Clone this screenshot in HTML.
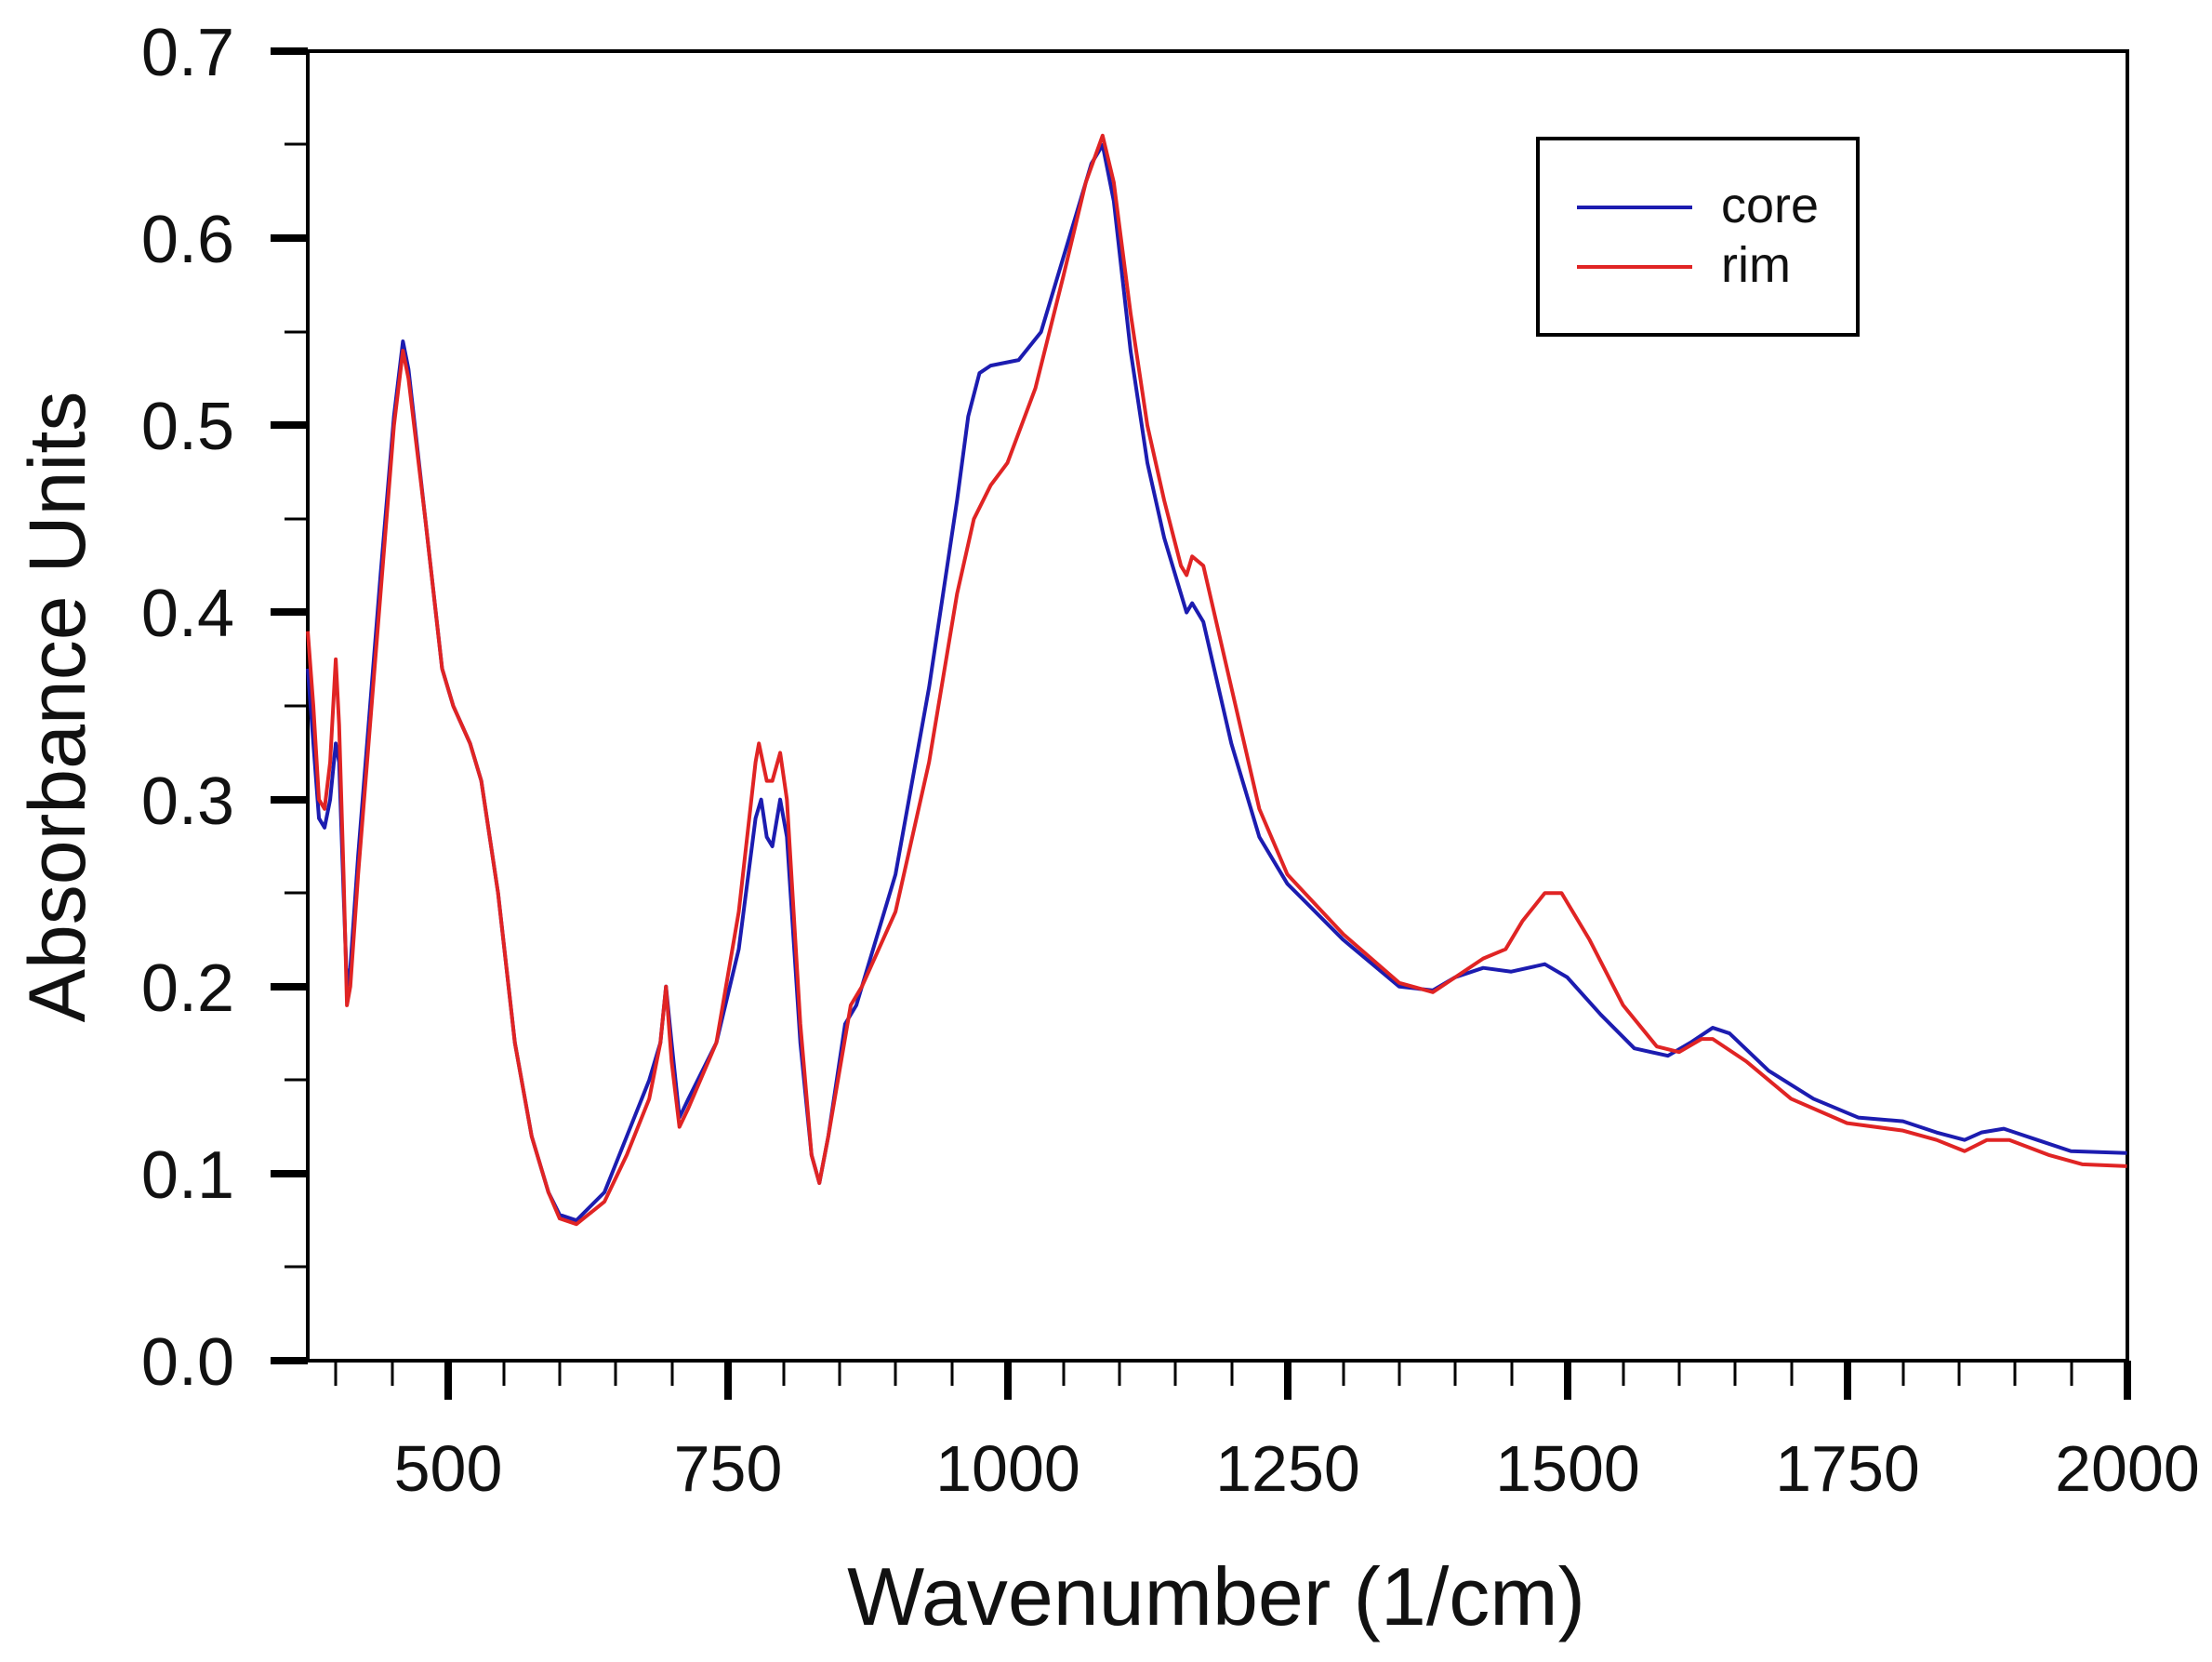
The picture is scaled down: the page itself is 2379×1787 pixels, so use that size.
<!DOCTYPE html>
<html><head><meta charset="utf-8"><style>
html,body{margin:0;padding:0;background:#fff;}
svg{display:block;}
text{font-family:"Liberation Sans",Arial,sans-serif;fill:#111;}
</style></head><body>
<svg width="2379" height="1787" viewBox="0 0 2379 1787" xmlns="http://www.w3.org/2000/svg">
<rect width="2379" height="1787" fill="#fff"/>
<rect x="331" y="55" width="1957" height="1408" fill="none" stroke="#000" stroke-width="4"/>
<g stroke="#000">
<g stroke-width="8">
<line x1="291" y1="1463" x2="331" y2="1463"/><line x1="291" y1="1262" x2="331" y2="1262"/>
<line x1="291" y1="1061" x2="331" y2="1061"/><line x1="291" y1="860" x2="331" y2="860"/>
<line x1="291" y1="658" x2="331" y2="658"/><line x1="291" y1="457" x2="331" y2="457"/>
<line x1="291" y1="256" x2="331" y2="256"/><line x1="291" y1="55" x2="331" y2="55"/>
</g>
<g stroke-width="3">
<line x1="306" y1="1362" x2="331" y2="1362"/><line x1="306" y1="1161" x2="331" y2="1161"/>
<line x1="306" y1="960" x2="331" y2="960"/><line x1="306" y1="759" x2="331" y2="759"/>
<line x1="306" y1="558" x2="331" y2="558"/><line x1="306" y1="357" x2="331" y2="357"/>
<line x1="306" y1="155" x2="331" y2="155"/>
</g>
<g stroke-width="8">
<line x1="482" y1="1463" x2="482" y2="1505"/><line x1="783" y1="1463" x2="783" y2="1505"/>
<line x1="1084" y1="1463" x2="1084" y2="1505"/><line x1="1385" y1="1463" x2="1385" y2="1505"/>
<line x1="1686" y1="1463" x2="1686" y2="1505"/><line x1="1987" y1="1463" x2="1987" y2="1505"/>
<line x1="2288" y1="1463" x2="2288" y2="1505"/>
</g>
<g stroke-width="3">
<line x1="361" y1="1463" x2="361" y2="1490"/><line x1="422" y1="1463" x2="422" y2="1490"/>
<line x1="542" y1="1463" x2="542" y2="1490"/><line x1="602" y1="1463" x2="602" y2="1490"/>
<line x1="662" y1="1463" x2="662" y2="1490"/><line x1="723" y1="1463" x2="723" y2="1490"/>
<line x1="843" y1="1463" x2="843" y2="1490"/><line x1="903" y1="1463" x2="903" y2="1490"/>
<line x1="963" y1="1463" x2="963" y2="1490"/><line x1="1024" y1="1463" x2="1024" y2="1490"/>
<line x1="1144" y1="1463" x2="1144" y2="1490"/><line x1="1204" y1="1463" x2="1204" y2="1490"/>
<line x1="1264" y1="1463" x2="1264" y2="1490"/><line x1="1325" y1="1463" x2="1325" y2="1490"/>
<line x1="1445" y1="1463" x2="1445" y2="1490"/><line x1="1505" y1="1463" x2="1505" y2="1490"/>
<line x1="1565" y1="1463" x2="1565" y2="1490"/><line x1="1626" y1="1463" x2="1626" y2="1490"/>
<line x1="1746" y1="1463" x2="1746" y2="1490"/><line x1="1806" y1="1463" x2="1806" y2="1490"/>
<line x1="1866" y1="1463" x2="1866" y2="1490"/><line x1="1927" y1="1463" x2="1927" y2="1490"/>
<line x1="2047" y1="1463" x2="2047" y2="1490"/><line x1="2107" y1="1463" x2="2107" y2="1490"/>
<line x1="2167" y1="1463" x2="2167" y2="1490"/><line x1="2228" y1="1463" x2="2228" y2="1490"/>
</g>
</g>
<g font-size="72" text-anchor="end">
<text x="252" y="1489">0.0</text><text x="252" y="1288">0.1</text>
<text x="252" y="1087">0.2</text><text x="252" y="886">0.3</text>
<text x="252" y="684">0.4</text><text x="252" y="483">0.5</text>
<text x="252" y="282">0.6</text><text x="252" y="81">0.7</text>
</g>
<g font-size="70" text-anchor="middle">
<text x="482" y="1603">500</text><text x="783" y="1603">750</text>
<text x="1084" y="1603">1000</text><text x="1385" y="1603">1250</text>
<text x="1686" y="1603">1500</text><text x="1987" y="1603">1750</text>
<text x="2288" y="1603">2000</text>
</g>
<text x="1308" y="1747" font-size="88" text-anchor="middle">Wavenumber (1/cm)</text>
<text transform="translate(91,760) rotate(-90)" font-size="86" text-anchor="middle">Absorbance Units</text>
<rect x="1654" y="149" width="344" height="211" fill="#fff" stroke="#000" stroke-width="4"/>
<line x1="1696" y1="223" x2="1820" y2="223" stroke="#1c1cb0" stroke-width="4"/>
<line x1="1696" y1="287" x2="1820" y2="287" stroke="#e02424" stroke-width="4"/>
<text x="1851" y="239" font-size="54">core</text>
<text x="1851" y="303" font-size="54">rim</text>
<g transform="translate(-120.5,1463) scale(1.204,-2.011)" fill="none" stroke-linejoin="round">
<path vector-effect="non-scaling-stroke" stroke="#1c1cb0" stroke-width="4" d="M375,370 L380,330 L385,290 L390,285 L395,300 L400,330 L403,320 L407,250 L410,200 L413,210 L420,270 L440,420 L452,505 L460,545 L465,530 L480,450 L495,370 L505,350 L520,330 L530,310 L545,250 L560,170 L575,120 L590,90 L600,78 L615,75 L640,90 L660,120 L680,150 L690,170 L695,200 L700,170 L707,130 L715,140 L740,170 L760,220 L775,290 L780,300 L785,280 L790,275 L797,300 L803,280 L815,170 L825,110 L832,95 L840,120 L855,180 L865,190 L870,200 L900,260 L930,360 L955,460 L965,505 L975,528 L985,532 L1010,535 L1030,550 L1060,610 L1075,640 L1085,650 L1095,620 L1110,540 L1125,480 L1140,440 L1155,410 L1160,400 L1165,405 L1175,395 L1200,330 L1225,280 L1250,255 L1300,225 L1350,200 L1380,198 L1400,205 L1425,210 L1450,208 L1480,212 L1500,205 L1530,185 L1560,167 L1590,163 L1610,170 L1630,178 L1645,175 L1680,155 L1720,140 L1760,130 L1800,128 L1830,122 L1855,118 L1870,122 L1890,124 L1920,118 L1950,112 L2000,111"/>
<path vector-effect="non-scaling-stroke" stroke="#e02424" stroke-width="4" d="M375,390 L380,350 L385,300 L390,295 L395,320 L400,375 L403,340 L407,260 L410,190 L413,200 L420,260 L440,410 L452,500 L460,540 L465,525 L480,450 L495,370 L505,350 L520,330 L530,310 L545,250 L560,170 L575,120 L590,90 L600,76 L615,73 L640,85 L660,110 L680,140 L690,170 L695,200 L700,160 L707,125 L715,135 L740,170 L760,240 L775,320 L778,330 L785,310 L790,310 L797,325 L803,300 L815,180 L825,110 L832,95 L840,120 L860,190 L870,200 L900,240 L930,320 L955,410 L970,450 L985,468 L1000,480 L1025,520 L1050,580 L1070,630 L1085,655 L1095,630 L1110,560 L1125,500 L1140,460 L1155,425 L1160,420 L1165,430 L1175,425 L1200,360 L1225,295 L1250,260 L1300,228 L1350,202 L1380,197 L1400,205 L1425,215 L1445,220 L1460,235 L1480,250 L1495,250 L1520,225 L1550,190 L1580,168 L1600,165 L1620,172 L1630,172 L1660,160 L1700,140 L1750,127 L1800,123 L1830,118 L1855,112 L1875,118 L1895,118 L1930,110 L1960,105 L2000,104"/>
</g>
</svg>
</body></html>
